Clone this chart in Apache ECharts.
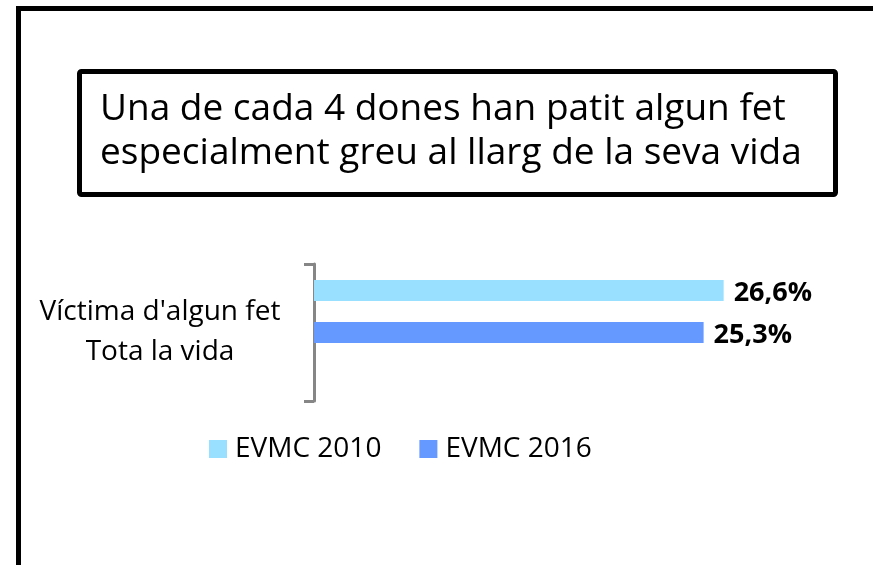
<!DOCTYPE html>
<html>
<head>
<meta charset="utf-8">
<script src="https://cdn.jsdelivr.net/npm/echarts@6/dist/echarts.min.js"></script>
<style>
  html, body { margin: 0; padding: 0; background: #fff; }
  #chart { width: 873px; height: 565px; }
</style>
</head>
<body>
<div id="chart"></div>
<script>
const categories = ["Víctima d'algun fet\nTota la vida"];
const seriesNames = ["EVMC 2010", "EVMC 2016"];
const values2010 = [26.6];
const values2016 = [25.3];
const seriesColors = ["#99DFFF", "#6699FF"];
const titleLines = ["Una de cada 4 dones han patit algun fet", "especialment greu al llarg de la seva vida"];

const FONT = "Open Sans";
const chart = echarts.init(document.getElementById("chart"), null, { renderer: "canvas" });

const fmt = (p) => p.value.toFixed(1).replace(".", ",") + "%";

const barLabel = {
    show: true,
    position: "right",
    distance: 10,
    offset: [0, 3],
    formatter: fmt,
    color: "#000",
    fontFamily: FONT,
    fontWeight: "bold",
    fontSize: 27,
};

chart.setOption({
    animation: false,
    backgroundColor: "#fff",
    textStyle: { fontFamily: FONT },
    graphic: [
        {
            type: "rect",
            shape: { x: 18.5, y: 8.5, width: 1000, height: 1000 },
            style: { fill: "none", stroke: "#000", lineWidth: 5 },
            silent: true,
        },
        {
            type: "rect",
            shape: { x: 79.5, y: 71.5, width: 756, height: 123, r: 2 },
            style: { fill: "#fff", stroke: "#000", lineWidth: 5 },
            silent: true,
        },
        {
            type: "text",
            left: 100,
            top: 87,
            style: {
                text: titleLines.join("\n"),
                fill: "#000",
                fontFamily: FONT,
                fontSize: 37,
                lineHeight: 44,
            },
            silent: true,
        },
    ],
    legend: {
        data: seriesNames,
        left: 209,
        top: 435,
        padding: 0,
        icon: "rect",
        itemWidth: 18,
        itemHeight: 18,
        itemGap: 38,
        textStyle: { fontFamily: FONT, fontSize: 28, color: "#000", padding: [0, 0, 0, 3] },
    },
    grid: { left: 314, right: 97, top: 264, bottom: 164, containLabel: false },
    xAxis: {
        type: "value",
        min: 0,
        max: 30,
        show: false,
    },
    yAxis: {
        type: "category",
        inverse: true,
        data: categories,
        axisLine: { show: true, lineStyle: { color: "#868686", width: 3 } },
        axisTick: { show: true, length: 10, lineStyle: { color: "#868686", width: 3 } },
        axisLabel: {
            align: "center",
            margin: 154,
            color: "#000",
            fontFamily: FONT,
            fontSize: 28,
            lineHeight: 40,
            padding: [5, 0, 0, 0],
        },
        splitLine: { show: false },
    },
    series: [
        {
            name: seriesNames[0],
            type: "bar",
            data: values2010,
            barWidth: 21,
            barGap: "100%",
            itemStyle: { color: seriesColors[0] },
            label: barLabel,
        },
        {
            name: seriesNames[1],
            type: "bar",
            data: values2016,
            barWidth: 21,
            barGap: "100%",
            itemStyle: { color: seriesColors[1] },
            label: barLabel,
        },
        {
            // empty slot so the two bars sit above the band centre
            name: "",
            type: "bar",
            data: [null],
            barWidth: 21,
            barGap: "100%",
        },
    ],
});
</script>
</body>
</html>
